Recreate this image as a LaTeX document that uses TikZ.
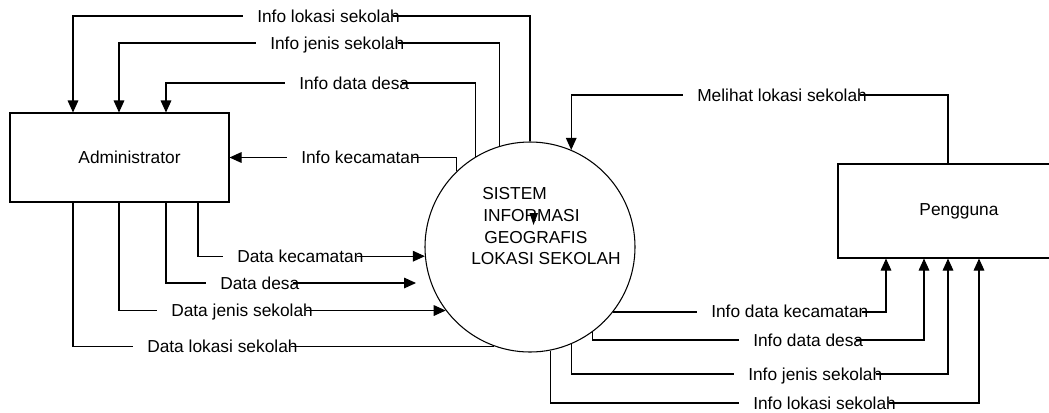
\documentclass[tikz,border=0pt]{standalone}
\usepackage{fontspec}
\setmainfont{Liberation Sans}
\usepackage{tikz}
\usetikzlibrary{arrows.meta}
\tikzstyle{flhead}=[>/.tip={Triangle[length=9pt,width=8pt]}]
\tikzstyle{fl} =[line width=.8pt,flhead,->]
\tikzstyle{ln} =[line width=.8pt]
\tikzstyle{ent}=[draw,line width=.8pt,rectangle]
\tikzstyle{lbl}=[fill=white,anchor=west,inner xsep=0pt,inner ysep=2pt,text height=9.3pt,text depth=0pt,execute at begin node={\hspace*{10.5pt}},execute at end node={\hspace*{-5pt}}]
\tikzstyle{ctr}=[anchor=west,inner sep=0pt,text height=9.3pt,text depth=0pt]

\begin{document}
\begin{tikzpicture}[x=.75pt,y=-.75pt,font=\fontsize{13}{15}\selectfont]
	\useasboundingbox (0,0) rectangle (1049,412);
	\clip (0,0) rectangle (1049,412);
	\node[ent,minimum width=164.25pt,minimum height=66.75pt] (admin) at (119.5,157.5) {\hspace*{15pt}Administrator};
	\node[ent,minimum width=181.5pt,minimum height=70.5pt] (peng) at (959,211) {Pengguna};
	\node[draw,circle,line width=.8pt,minimum size=157.5pt,inner sep=0pt] (sys) at (530,247) {};
	\node[ctr] (s1) at (482,193) {SISTEM};
	\node[ctr] (s2) at (483,215) {INFORMASI};
	\node[ctr] (s3) at (484,237) {GEOGRAFIS};
	\node[ctr] (s4) at (471,258) {LOKASI SEKOLAH};
	\fill (529.5,213) -- (538,213) -- (533.5,225) -- cycle;
	\coordinate (a1) at (73,16);
	\coordinate (a2) at (119,43);
	\coordinate (a3) at (166,83);
	\coordinate (b1) at (198,256);
	\coordinate (b2) at (166,283);
	\coordinate (b2e) at (416,283);
	\coordinate (b3) at (119,310);
	\coordinate (b4) at (73,346);
	\coordinate (m1) at (948,95);
	\coordinate (c1) at (886,311);
	\coordinate (c2) at (924,340);
	\coordinate (c3) at (948,374);
	\coordinate (c4) at (979,403);
	\draw[fl] (sys.north) |- (a1) -- (a1 |- admin.north);
	\draw[fl] (sys.107) |- (a2) -- (a2 |- admin.north);
	\draw[fl] (sys.121) |- (a3) -- (a3 |- admin.north);
	\draw[fl] (sys.134) |- (admin.east);
	\draw[fl] (b1 |- admin.south) |- (sys.185);
	\draw[fl] (b2 |- admin.south) |- (b2e);
	\draw[fl] (b3 |- admin.south) |- (sys.217);
	\draw[ln] (b4 |- admin.south) |- (sys.250);
	\draw[fl] (m1 |- peng.north) -- (m1) -| (sys.67);
	\draw[fl] (sys.322) -| (c1 |- peng.south);
	\draw[fl] (sys.306) |- (c2) -- (c2 |- peng.south);
	\draw[fl] (sys.293) |- (c3) -- (c3 |- peng.south);
	\draw[fl] (sys.281) |- (c4) -- (c4 |- peng.south);
	\node[lbl] (la1) at (243,16) {Info lokasi sekolah};
	\node[lbl] (la2) at (256,43) {Info jenis sekolah};
	\node[lbl] (la3) at (285,83) {Info data desa};
	\node[lbl] (la4) at (287,157.5) {Info kecamatan};
	\node[lbl] (lb1) at (223,256) {Data kecamatan};
	\node[lbl] (lb2) at (206,283) {Data desa};
	\node[lbl] (lb3) at (157,310) {Data jenis sekolah};
	\node[lbl] (lb4) at (133,346) {Data lokasi sekolah};
	\node[lbl] (lm)  at (683,95) {Melihat lokasi sekolah};
	\node[lbl] (lc1) at (697,311) {Info data kecamatan};
	\node[lbl] (lc2) at (739,340) {Info data desa};
	\node[lbl] (lc3) at (734,374) {Info jenis sekolah};
	\node[lbl] (lc4) at (739,403) {Info lokasi sekolah};
\end{tikzpicture}
\end{document}
